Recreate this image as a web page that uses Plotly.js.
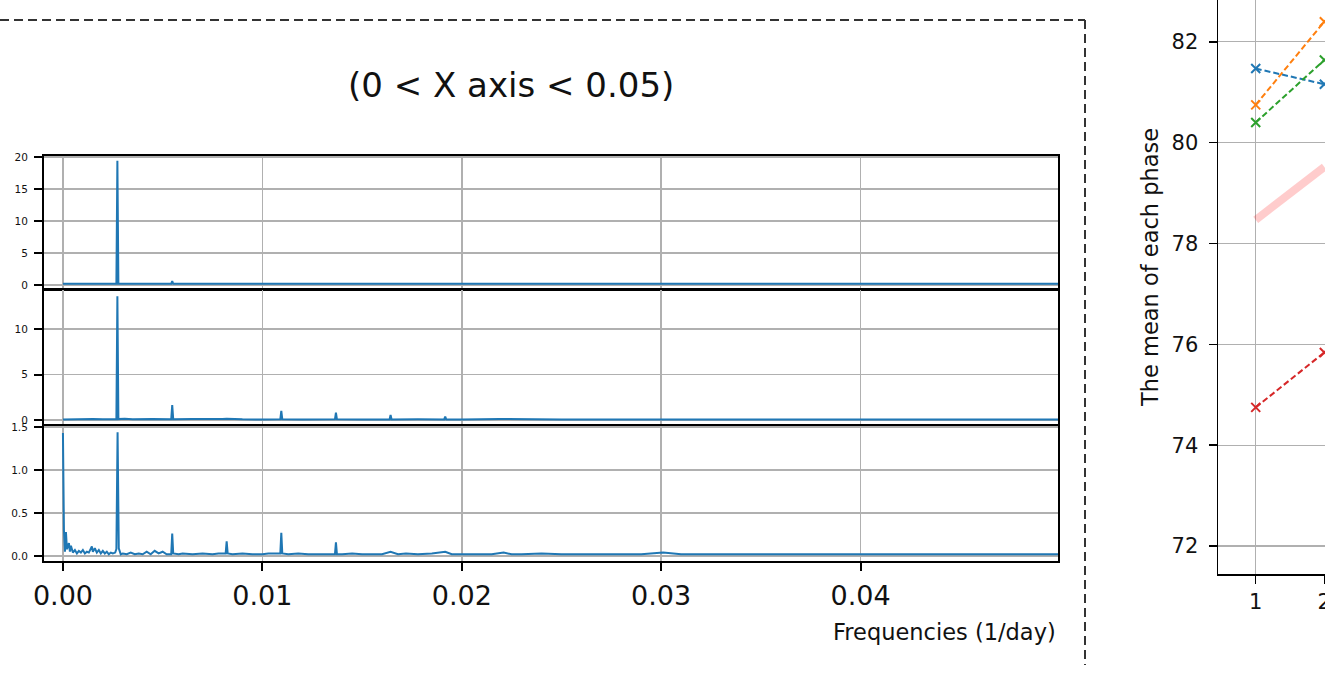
<!DOCTYPE html>
<html>
<head>
<meta charset="utf-8">
<script src="https://cdn.plot.ly/plotly-3.0.1.min.js"></script>
<style>html,body{margin:0;padding:0;overflow:hidden;background:#fff;}#chart{width:1325px;height:674px;}</style>
</head>
<body>
<div id="chart"></div>
<script>
// ---- Spectrum panel 1 (top) ----
const freqA = [0, 0.0010, 0.0020, 0.00268, 0.00273, 0.00278, 0.0040, 0.00543, 0.00548, 0.00553, 0.0100, 0.0200, 0.0300, 0.0400, 0.0499];
const ampA  = [0.2, 0.2, 0.2, 0.2, 19.4, 0.2, 0.2, 0.2, 0.6, 0.2, 0.2, 0.2, 0.2, 0.2, 0.2];

// ---- Spectrum panel 2 (middle) ----
const freqB = [0, 0.0005, 0.0010, 0.0015, 0.0020, 0.00268, 0.00273, 0.00278, 0.0031, 0.0035, 0.0045, 0.0050,
  0.00543, 0.00548, 0.00553, 0.0065, 0.0075, 0.0080, 0.00821, 0.0090, 0.0100, 0.0109, 0.01095, 0.0110,
  0.0120, 0.0130, 0.01364, 0.01369, 0.01374, 0.0150, 0.01638, 0.01643, 0.01648, 0.0178, 0.0185,
  0.01912, 0.01917, 0.01922, 0.0200, 0.0219, 0.0250, 0.0300, 0.0350, 0.0400, 0.0450, 0.0499];
const ampB  = [0.05, 0.08, 0.06, 0.10, 0.07, 0.08, 13.6, 0.10, 0.15, 0.08, 0.12, 0.07,
  0.08, 1.65, 0.08, 0.10, 0.08, 0.12, 0.15, 0.07, 0.06, 0.08, 1.0, 0.08,
  0.06, 0.07, 0.07, 0.8, 0.07, 0.06, 0.06, 0.55, 0.06, 0.08, 0.10,
  0.06, 0.37, 0.06, 0.05, 0.12, 0.05, 0.06, 0.05, 0.05, 0.05, 0.05];

// ---- Spectrum panel 3 (bottom) ----
const freqC = [0, 0.00005, 0.0001, 0.00015, 0.0002, 0.0003, 0.00035, 0.0004, 0.0005, 0.0006, 0.0007, 0.0008,
  0.0009, 0.0010, 0.0011, 0.0012, 0.0013, 0.00145, 0.0015, 0.0016, 0.0017, 0.0018, 0.0019, 0.0020,
  0.0021, 0.0022, 0.0023, 0.0024, 0.0025, 0.00262, 0.00268, 0.00274, 0.0028, 0.0029, 0.0030, 0.0032,
  0.0034, 0.0036, 0.0038, 0.0040, 0.0042, 0.0044, 0.0046, 0.0048, 0.0050, 0.0052, 0.00543, 0.00548,
  0.00553, 0.0058, 0.0060, 0.0065, 0.0070, 0.0075, 0.0078, 0.00816, 0.00821, 0.00826, 0.0085, 0.0090,
  0.0095, 0.0100, 0.0103, 0.0109, 0.01095, 0.0110, 0.0113, 0.0118, 0.0123, 0.0128, 0.01364, 0.01369,
  0.01374, 0.0140, 0.0145, 0.0150, 0.0155, 0.0160, 0.01643, 0.0168, 0.0172, 0.0178, 0.0185, 0.01917,
  0.0195, 0.0200, 0.0205, 0.0210, 0.0215, 0.0221, 0.0225, 0.0230, 0.0240, 0.0250, 0.0260, 0.0270,
  0.0280, 0.0290, 0.0301, 0.0310, 0.0320, 0.0330, 0.0340, 0.0350, 0.0360, 0.0370, 0.0380, 0.0390,
  0.0400, 0.0420, 0.0440, 0.0460, 0.0480, 0.0499];
const ampC  = [1.43, 0.30, 0.05, 0.28, 0.08, 0.15, 0.05, 0.12, 0.04, 0.07, 0.03, 0.06,
  0.04, 0.07, 0.03, 0.05, 0.04, 0.11, 0.05, 0.09, 0.04, 0.07, 0.03, 0.06,
  0.03, 0.05, 0.02, 0.04, 0.03, 0.04, 0.08, 1.44, 0.09, 0.02, 0.03, 0.02,
  0.04, 0.02, 0.03, 0.02, 0.05, 0.02, 0.06, 0.03, 0.05, 0.02, 0.02, 0.26,
  0.03, 0.02, 0.03, 0.02, 0.03, 0.02, 0.03, 0.03, 0.17, 0.03, 0.02, 0.03,
  0.02, 0.02, 0.03, 0.03, 0.27, 0.03, 0.02, 0.03, 0.02, 0.02, 0.02, 0.16,
  0.02, 0.02, 0.03, 0.02, 0.02, 0.02, 0.05, 0.02, 0.03, 0.02, 0.03, 0.05,
  0.02, 0.02, 0.02, 0.02, 0.02, 0.04, 0.02, 0.02, 0.03, 0.02, 0.02, 0.02,
  0.02, 0.02, 0.04, 0.02, 0.02, 0.02, 0.02, 0.02, 0.02, 0.02, 0.02, 0.02,
  0.02, 0.02, 0.02, 0.02, 0.02, 0.02];

// ---- Right panel: mean of each phase ----
const phases = [1, 2];
const meanBlue   = [81.47, 81.16];
const meanOrange = [80.75, 82.40];
const meanGreen  = [80.40, 81.64];
const meanRed    = [74.75, 75.84];
const meanTrend  = [78.47, 79.52];

const xTickVals = [0, 0.01, 0.02, 0.03, 0.04];
const yTicksA = [0, 5, 10, 15, 20];
const yTicksB = [0, 5, 10];
const yTicksC = [0, 0.5, 1.0, 1.5];
const yTicksR = [72, 74, 76, 78, 80, 82];

const FONT = 'DejaVu Sans, sans-serif';
const GRID = '#b0b0b0';
const BLUE = '#1f77b4';

const spec = (x, y, xa, ya) => ({x: x, y: y, xaxis: xa, yaxis: ya, type: 'scatter', mode: 'lines',
  line: {color: BLUE, width: 2}, hoverinfo: 'skip'});
const phaseTrace = (y, c) => ({x: phases, y: y, xaxis: 'x4', yaxis: 'y4', type: 'scatter', mode: 'lines+markers',
  line: {color: c, width: 2, dash: '6px,3px'}, marker: {symbol: 'x-thin', size: 9, line: {color: c, width: 2}}});

const data = [
  spec(freqA, ampA, 'x', 'y'),
  spec(freqB, ampB, 'x2', 'y2'),
  spec(freqC, ampC, 'x3', 'y3'),
  {x: phases, y: meanTrend, xaxis: 'x4', yaxis: 'y4', type: 'scatter', mode: 'lines',
   line: {color: 'rgba(255,0,0,0.2)', width: 8}},
  phaseTrace(meanBlue, '#1f77b4'),
  phaseTrace(meanOrange, '#ff7f0e'),
  phaseTrace(meanGreen, '#2ca02c'),
  phaseTrace(meanRed, '#d62728')
];

const XDOM = [44/1325, 1058/1325];
const XRANGE = [-0.00095, 0.0499];
const specX = (anchor, bottom) => ({domain: XDOM, anchor: anchor, range: XRANGE, tickvals: xTickVals,
  tickformat: '.2f', showgrid: true, gridcolor: GRID, gridwidth: 1.5, zeroline: false,
  showline: true, mirror: true, linecolor: 'black', linewidth: 2,
  showticklabels: bottom, ticks: bottom ? 'outside' : '', ticklen: 8, tickwidth: 2, tickcolor: 'black',
  ticklabelstandoff: 2,
  tickfont: {size: 27, color: '#111', family: FONT}, automargin: false});
const specY = (anchor, dom, rng, tv, fmt) => ({domain: dom, anchor: anchor, range: rng, tickvals: tv,
  tickformat: fmt, showgrid: true, gridcolor: GRID, gridwidth: 1.5, zeroline: false,
  showline: true, mirror: true, linecolor: 'black', linewidth: 2,
  ticks: 'outside', ticklen: 8, tickwidth: 2, tickcolor: 'black', ticklabelstandoff: 4,
  tickfont: {size: 10.5, color: '#111', family: FONT}, automargin: false});

const layout = {
  width: 1325, height: 674,
  margin: {l: 0, r: 0, t: 0, b: 0, pad: 0},
  paper_bgcolor: 'white', plot_bgcolor: 'white',
  showlegend: false,
  font: {family: FONT, color: '#111'},
  xaxis: specX('y', false),
  xaxis2: specX('y2', false),
  xaxis3: specX('y3', true),
  yaxis: specY('x', [1 - 289/674, 1 - 156/674], [-0.62, 20.16], yTicksA, 'd'),
  yaxis2: specY('x2', [1 - 424/674, 1 - 290/674], [-0.44, 14.29], yTicksB, 'd'),
  yaxis3: specY('x3', [1 - 561/674, 1 - 426/674], [-0.058, 1.512], yTicksC, '.1f'),
  xaxis4: {domain: [1218/1325, 1], anchor: 'y4', range: [0.45, 2.01], tickvals: phases,
    showgrid: true, gridcolor: GRID, gridwidth: 1.2, zeroline: false,
    showline: true, linecolor: 'black', linewidth: 1.5, mirror: false,
    ticks: 'outside', ticklen: 8, tickwidth: 1.5, tickcolor: 'black', ticklabeloverflow: 'allow',
    tickfont: {size: 21, color: '#111', family: FONT}, automargin: false},
  yaxis4: {domain: [1 - 574/674, 1], anchor: 'x4', range: [71.445, 82.83], tickvals: yTicksR,
    showgrid: true, gridcolor: GRID, gridwidth: 1.2, zeroline: false,
    showline: true, linecolor: 'black', linewidth: 1.5, mirror: false,
    ticks: 'outside', ticklen: 8, tickwidth: 1.5, tickcolor: 'black', ticklabelstandoff: 6,
    tickfont: {size: 21, color: '#111', family: FONT}, automargin: false},
  shapes: [
    {type: 'line', xref: 'paper', yref: 'paper', x0: 0, x1: 1085/1325, y0: 1 - 20/674, y1: 1 - 20/674,
     line: {color: '#333', width: 2, dash: '9px,5px'}},
    {type: 'line', xref: 'paper', yref: 'paper', x0: 1085/1325, x1: 1085/1325, y0: 1 - 20/674, y1: 1 - 665/674,
     line: {color: '#333', width: 2, dash: '9px,5px'}}
  ],
  annotations: [
    {text: '(0 &lt; X axis &lt; 0.05)', xref: 'paper', yref: 'paper', x: 511/1325, y: 1 - 85/674,
     xanchor: 'center', yanchor: 'middle', showarrow: false, font: {size: 34, color: '#111', family: FONT}},
    {text: 'Frequencies (1/day)', xref: 'paper', yref: 'paper', x: 1058/1325, y: 1 - 632/674,
     xanchor: 'right', yanchor: 'middle', showarrow: false, font: {size: 22.5, color: '#111', family: FONT}},
    {text: 'The mean of each phase', xref: 'paper', yref: 'paper', x: 1150/1325, y: 1 - 268/674,
     xanchor: 'center', yanchor: 'middle', textangle: -90, showarrow: false, font: {size: 22.5, color: '#111', family: FONT}}
  ]
};

Plotly.newPlot('chart', data, layout, {displayModeBar: false, staticPlot: true});
</script>
</body>
</html>
